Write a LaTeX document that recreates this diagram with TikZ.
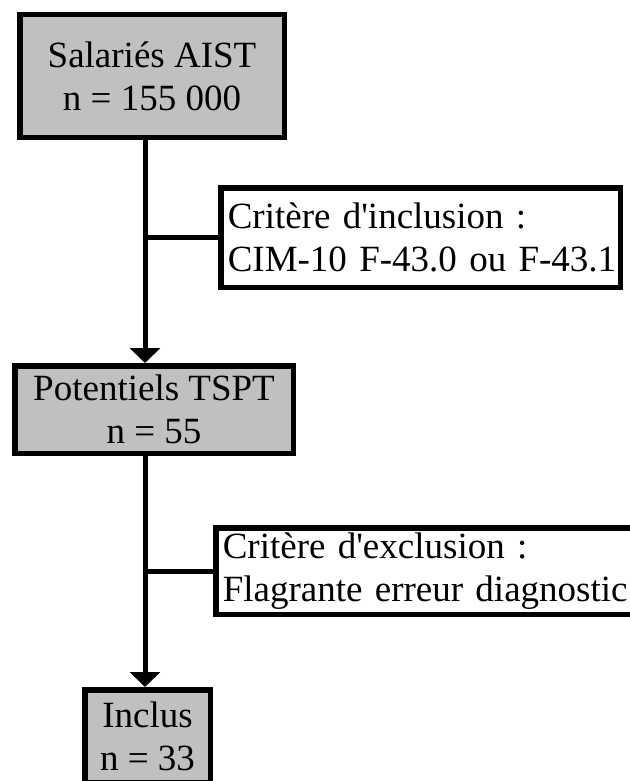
\documentclass[tikz,border=0pt]{standalone}
\usepackage{fontspec}
\setmainfont{Liberation Serif}[Ligatures=TeXOff]
\usetikzlibrary{arrows.meta}
\definecolor{boxgray}{HTML}{C0C0C0}
\begin{document}
\begin{tikzpicture}[x=1pt,y=-1pt,
  every node/.style={font=\fontsize{37}{43}\selectfont},
  graybox/.style={draw=black, line width=5.5pt, fill=boxgray, align=center, inner sep=0pt},
  critbox/.style={draw=black, line width=5.5pt, fill=white, align=left, inner xsep=7pt, inner ysep=0pt},
  link/.style={draw=black, line width=5pt},
  arr/.style={link, -{Triangle[width=30pt,length=15pt]}}]
\useasboundingbox[fill=white] (0,0) rectangle (629,781);
\coordinate (trunk) at (145,0);
\node[graybox, minimum width=264.5pt, minimum height=122.5pt] (b1) at (152,76) {Salariés AIST\\n = 155 000};
\node[graybox, minimum width=278.5pt, minimum height=87.5pt] (b2) at (154,409.5) {Potentiels TSPT\\n = 55};
\node[graybox, minimum width=125.5pt, minimum height=92.5pt] (b3) at (147.5,736) {Inclus\\n = 33};
\node[critbox, text width=385.5pt, minimum height=99.5pt] (inc) at (420.5,237.5) {\mbox{Critère d'inclusion :}\\\mbox{CIM-10 F-43.0 ou F-43.1}};
\node[critbox, text width=403.5pt, minimum height=86.5pt] (exc) at (424.5,571) {\mbox{Critère d'exclusion :}\\\mbox{Flagrante erreur diagnostic}};
\draw[arr] (b1.south -| trunk) -- (b2.north -| trunk);
\draw[arr] (b2.south -| trunk) -- (b3.north -| trunk);
\draw[link] (trunk |- inc.west) -- (inc.west);
\draw[link] (trunk |- exc.west) -- (exc.west);
\end{tikzpicture}
\end{document}
